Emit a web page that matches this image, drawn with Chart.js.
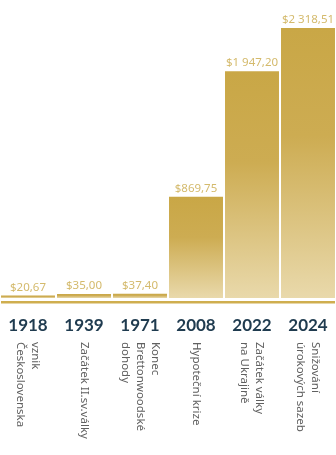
<!DOCTYPE html>
<html>
<head>
<meta charset="utf-8">
<script src="https://cdn.jsdelivr.net/npm/chart.js@4.4.1/dist/chart.umd.min.js"></script>
<style>
html,body{margin:0;padding:0;background:#fff;}
#wrap{width:336px;height:455px;position:relative;}
</style>
</head>
<body>
<div id="wrap"><canvas id="c"></canvas></div>
<script>
const years = ["1918", "1939", "1971", "2008", "2022", "2024"];
const events = [
  ["vznik", "Československa"],
  ["Začátek II.sv.války"],
  ["Konec", "Brettonwoodské", "dohody"],
  ["Hypoteční krize"],
  ["Začátek války", "na Ukrajině"],
  ["Snižování", "úrokových sazeb"]
];
const prices = [20.67, 35.00, 37.40, 869.75, 1947.20, 2318.51];
const priceLabels = ["$20,67", "$35,00", "$37,40", "$869,75", "$1 947,20", "$2 318,51"];

function barGradient(ctx) {
  const chart = ctx.chart;
  const ys = chart.scales.y;
  if (!ys || ctx.parsed === undefined) return '#caa84a';
  const top = ys.getPixelForValue(ctx.parsed.y);
  const base = ys.getPixelForValue(0);
  if (!isFinite(top) || !isFinite(base) || base - top < 1) return '#caa84a';
  const g = chart.ctx.createLinearGradient(0, top, 0, base);
  g.addColorStop(0, '#c9a746');
  g.addColorStop(0.4, '#cdac52');
  g.addColorStop(1, '#e9d9ab');
  return g;
}

const decor = {
  id: 'decor',
  afterDatasetsDraw(chart) {
    const ctx = chart.ctx;
    const meta = chart.getDatasetMeta(0);
    const area = chart.chartArea;
    ctx.save();
    // value labels
    ctx.font = '11.5px "Noto Sans"';
    ctx.fillStyle = '#d4ba6c';
    ctx.textAlign = 'center';
    ctx.textBaseline = 'alphabetic';
    meta.data.forEach((el, i) => {
      ctx.fillText(priceLabels[i], el.x, el.y - 5);
    });
    // baseline line
    ctx.fillStyle = '#cfae4f';
    ctx.fillRect(area.left + 1, area.bottom + 3, area.right - area.left - 2, 2.5);
    // years
    ctx.font = 'bold 17px Lato';
    ctx.fillStyle = '#1f3b4f';
    ctx.textAlign = 'center';
    meta.data.forEach((el, i) => {
      ctx.fillText(years[i], el.x, area.bottom + 33);
    });
    // rotated event texts
    ctx.font = '11.5px "Noto Sans"';
    ctx.fillStyle = '#606060';
    ctx.textAlign = 'left';
    ctx.textBaseline = 'middle';
    const lh = 15;
    meta.data.forEach((el, i) => {
      const lines = events[i];
      ctx.save();
      ctx.translate(el.x, area.bottom + 44);
      ctx.rotate(Math.PI / 2);
      lines.forEach((ln, j) => {
        const off = (j - (lines.length - 1) / 2) * lh;
        ctx.fillText(ln, 0, off);
      });
      ctx.restore();
    });
    ctx.restore();
  }
};

new Chart(document.getElementById('c'), {
  type: 'bar',
  data: {
    labels: years,
    datasets: [{
      data: prices,
      backgroundColor: barGradient,
      borderWidth: 0,
      barPercentage: 0.964,
      categoryPercentage: 1
    }]
  },
  options: {
    responsive: true,
    maintainAspectRatio: false,
    animation: false,
    devicePixelRatio: 1,
    layout: { padding: { top: 28, bottom: 157, left: 0, right: 0 } },
    plugins: { legend: { display: false }, tooltip: { enabled: false } },
    scales: {
      x: { display: false },
      y: { display: false, min: 0, max: Math.max(...prices) }
    }
  },
  plugins: [decor]
});
</script>
</body>
</html>
